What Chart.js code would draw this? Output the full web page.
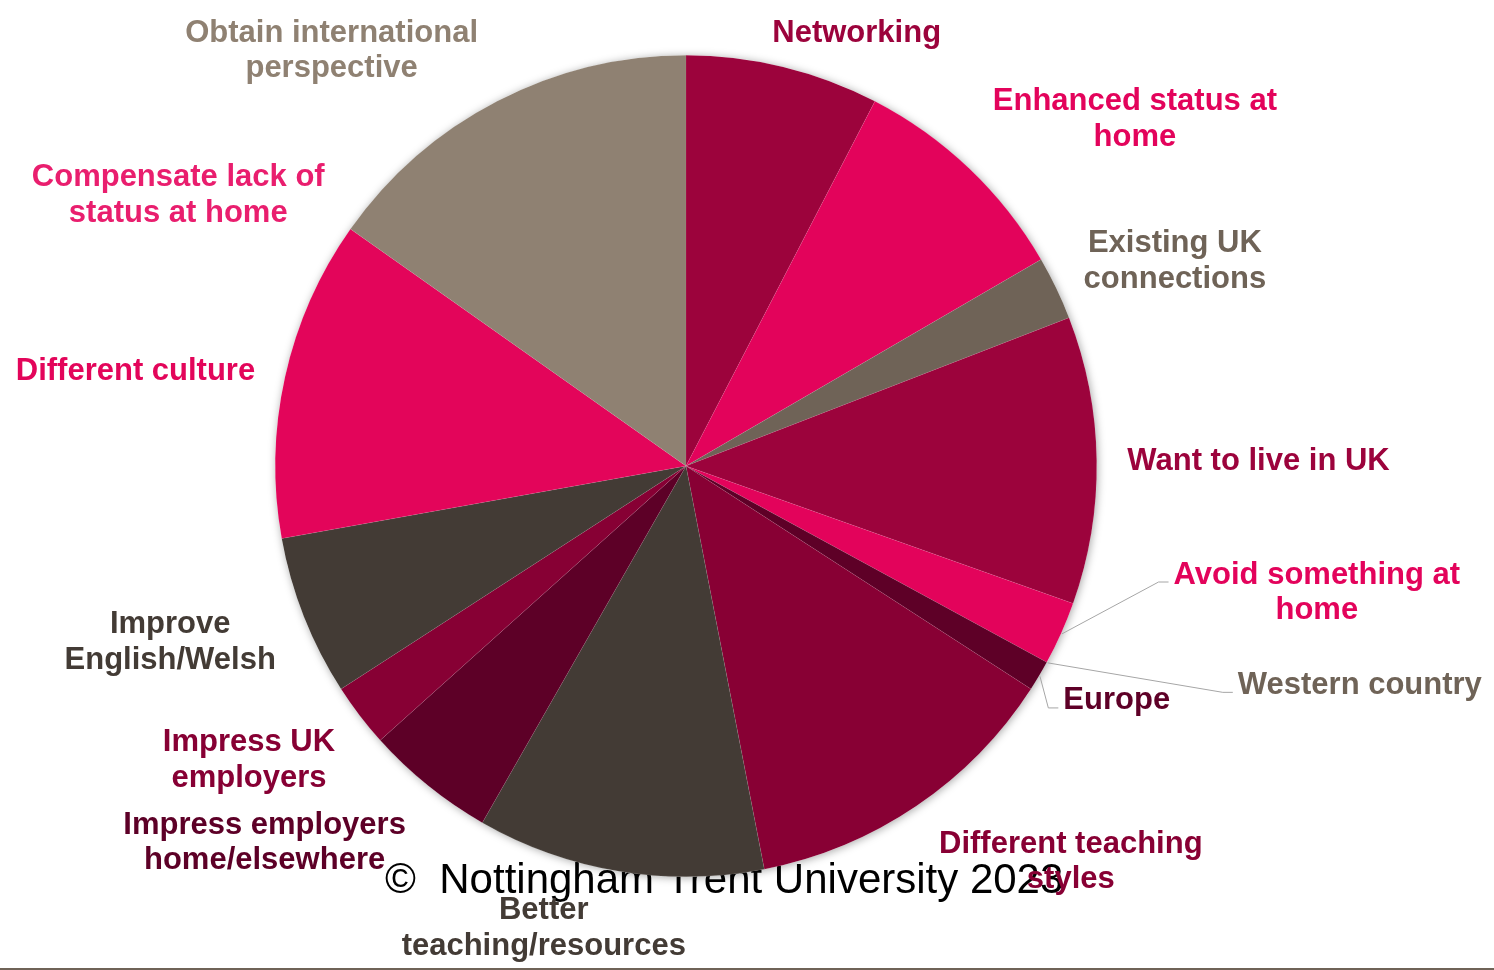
<!DOCTYPE html>
<html>
<head>
<meta charset="utf-8">
<title>Reasons for studying in the UK</title>
<script src="https://cdn.jsdelivr.net/npm/chart.js@4/dist/chart.umd.min.js"></script>
<style>
  html, body { margin: 0; padding: 0; background: #ffffff; }
  canvas { display: block; }
</style>
</head>
<body>
<canvas id="reasons" width="1494" height="970"></canvas>
<script>
// share of answers (%), clockwise from 12 o'clock
const reasonLabels = [
  ['Networking'],
  ['Enhanced status at', 'home'],
  ['Existing UK', 'connections'],
  ['Want to live in UK'],
  ['Avoid something at', 'home'],
  ['Western country'],
  ['Europe'],
  ['Different teaching', 'styles'],
  ['Better', 'teaching/resources'],
  ['Impress employers', 'home/elsewhere'],
  ['Impress UK', 'employers'],
  ['Improve', 'English/Welsh'],
  ['Different culture'],
  ['Compensate lack of', 'status at home'],
  ['Obtain international', 'perspective']
];
const reasonValues = [7.6, 9.0, 2.5, 11.3, 2.5, 0, 1.2, 12.8, 11.3, 5.1, 2.5, 6.3, 12.6, 0, 15.2];

const sliceColours = ['#9C033C', '#E3035B', '#6F6357', '#9C033C', '#E3035B', '#6F6357', '#5E0027',
  '#880034', '#433B35', '#5D0027', '#870034', '#433B35', '#E3055A', '#E3055A', '#8F8172'];
const labelColours = ['#9C033C', '#E3035B', '#6F6357', '#9C033C', '#E3035B', '#6F6357', '#5E0027',
  '#880034', '#433B35', '#5D0027', '#870034', '#433B35', '#E3055A', '#E91E6E', '#8F8172'];

// where each label sits: angle from top (deg) and distance in pie radii
const labelAngle = [21.4, 52.1, 67.0, 89.2, 101.1, 107.8, 118.3, 135.6, 197.2, 228.4, 236.3, 251.4, 280.0, 298.3, 319.7];
const labelDist  = [1.139, 1.385, 1.293, 1.394, 1.565, 1.723, 1.191, 1.339, 1.171, 1.372, 1.279, 1.325, 1.361, 1.404, 1.334];
const hasLeader  = [false, false, false, false, true, true, true, false, false, false, false, false, false, false, false];

const LABEL_FONT = 'bold 31px "Liberation Sans", Arial, sans-serif';
const LINE_H = 35.5;
const TEXT_DROP = 3; // canvas 'middle' sits a little high for this font

// copyright line sits behind the pie, then a soft shadow ring
const backdrop = {
  id: 'backdrop',
  beforeDatasetsDraw(chart) {
    const ctx = chart.ctx;
    const arc = chart.getDatasetMeta(0).data[0];
    ctx.save();
    ctx.fillStyle = '#000000';
    ctx.font = '42px "Liberation Sans", Arial, sans-serif';
    ctx.textAlign = 'left';
    ctx.textBaseline = 'alphabetic';
    ctx.fillText('\u00A9  Nottingham Trent University 2023', 385, 893);

    ctx.shadowColor = 'rgba(0,0,0,0.35)';
    ctx.shadowBlur = 9;
    ctx.shadowOffsetX = 1;
    ctx.shadowOffsetY = 1;
    ctx.fillStyle = '#ffffff';
    ctx.beginPath();
    ctx.arc(arc.x, arc.y, arc.outerRadius, 0, Math.PI * 2);
    ctx.fill();
    ctx.restore();
  }
};

// category labels round the outside, with leader lines for the thin slices
const outsideLabels = {
  id: 'outsideLabels',
  afterDatasetsDraw(chart) {
    const ctx = chart.ctx;
    const arcs = chart.getDatasetMeta(0).data;
    const cx = arcs[0].x, cy = arcs[0].y, r = arcs[0].outerRadius;
    ctx.save();
    ctx.font = LABEL_FONT;
    ctx.textAlign = 'center';
    ctx.textBaseline = 'middle';
    reasonLabels.forEach((lines, i) => {
      const a = labelAngle[i] * Math.PI / 180;
      const lx = cx + labelDist[i] * r * Math.sin(a);
      const ly = cy - labelDist[i] * r * Math.cos(a);
      const top = ly - (lines.length - 1) * LINE_H / 2;

      if (hasLeader[i]) {
        const mid = (arcs[i].startAngle + arcs[i].endAngle) / 2;
        const sx = cx + (r + 1) * Math.cos(mid);
        const sy = cy + (r + 1) * Math.sin(mid);
        const w = Math.max(...lines.map(t => ctx.measureText(t).width));
        const ex = lx - w / 2 - 5;
        const ey = top + 10;
        ctx.strokeStyle = '#A6A6A6';
        ctx.lineWidth = 1;
        ctx.beginPath();
        ctx.moveTo(sx, sy);
        ctx.lineTo(ex - 10, ey);
        ctx.lineTo(ex, ey);
        ctx.stroke();
      }

      ctx.fillStyle = labelColours[i];
      lines.forEach((t, k) => ctx.fillText(t, lx, top + k * LINE_H + TEXT_DROP));
    });
    ctx.restore();
  },
  afterDraw(chart) {
    const ctx = chart.ctx;
    ctx.save();
    ctx.fillStyle = '#6F6357';
    ctx.fillRect(0, 968, chart.width, 2);
    ctx.restore();
  }
};

new Chart(document.getElementById('reasons'), {
  type: 'pie',
  data: {
    labels: reasonLabels.map(l => l.join(' ')),
    datasets: [{
      data: reasonValues,
      backgroundColor: sliceColours,
      borderColor: 'rgba(255,255,255,0.12)',
      borderWidth: 0.5
    }]
  },
  options: {
    responsive: false,
    animation: false,
    devicePixelRatio: 1,
    layout: { padding: { top: 55, bottom: 93, left: 275, right: 397 } },
    plugins: {
      legend: { display: false },
      tooltip: { enabled: false }
    }
  },
  plugins: [backdrop, outsideLabels]
});
</script>
</body>
</html>
